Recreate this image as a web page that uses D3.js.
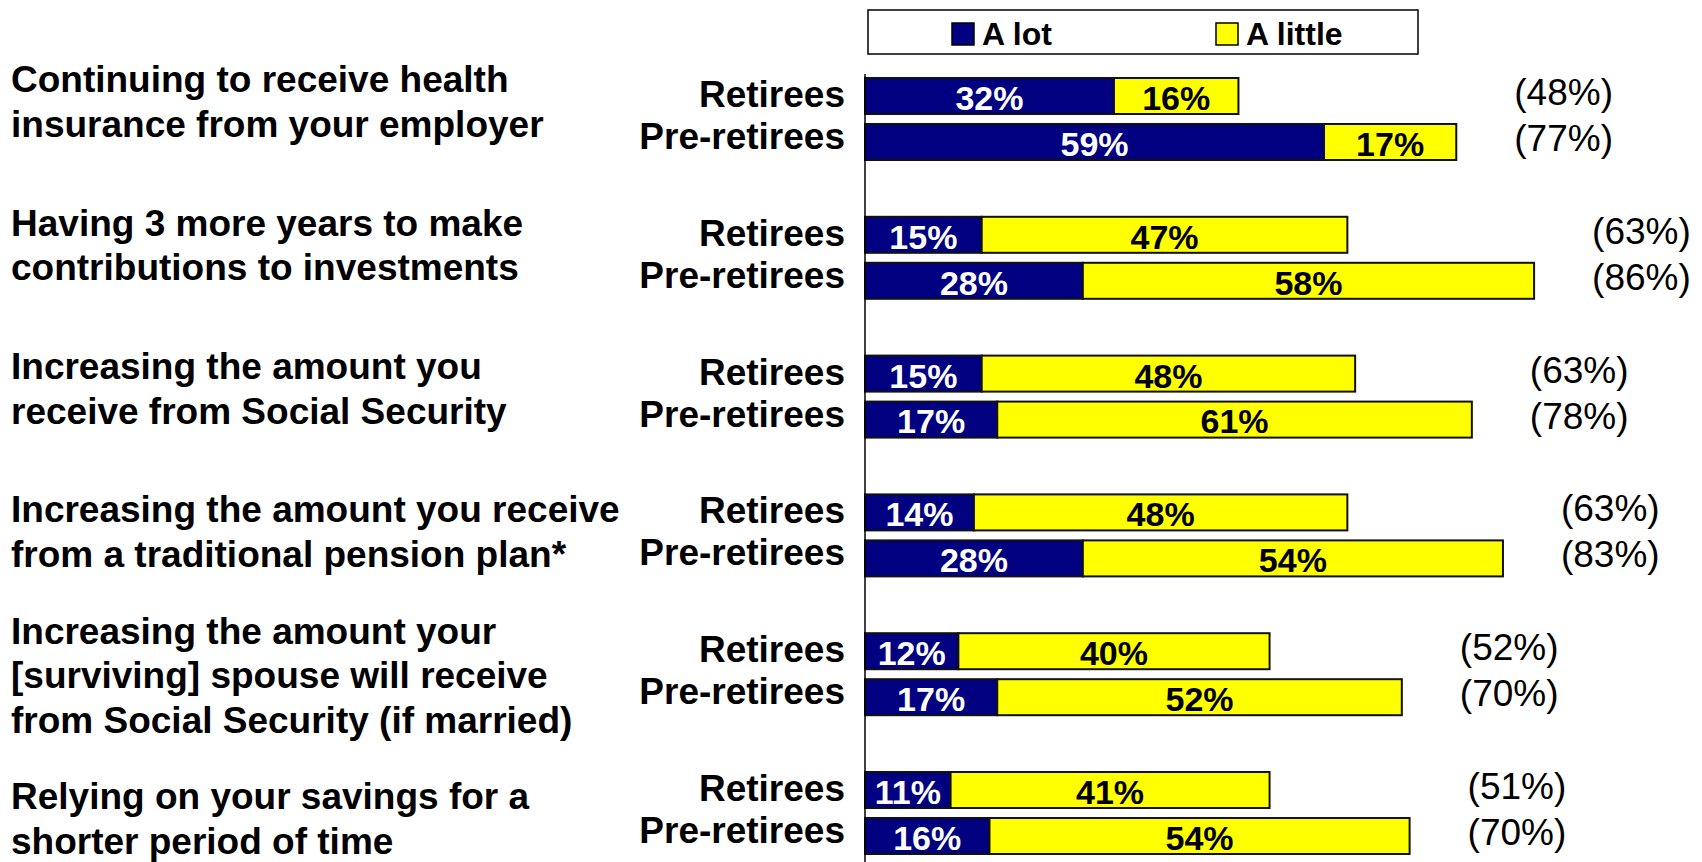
<!DOCTYPE html>
<html>
<head>
<meta charset="utf-8">
<script src="https://d3js.org/d3.v7.min.js"></script>
<style>
  html, body { margin: 0; padding: 0; background: #fff; }
  svg text { font-family: "Liberation Sans", Arial, sans-serif; }
</style>
</head>
<body>
<div id="chart"></div>
<script>
// chart data
var categories = [
  ["Continuing to receive health", "insurance from your employer"],
  ["Having 3 more years to make", "contributions to investments"],
  ["Increasing the amount you", "receive from Social Security"],
  ["Increasing the amount you receive", "from a traditional pension plan*"],
  ["Increasing the amount your", "[surviving] spouse will receive", "from Social Security (if married)"],
  ["Relying on your savings for a", "shorter period of time"]
];
var groups = ["Retirees", "Pre-retirees"];
var aLotRetirees = [32, 15, 15, 14, 12, 11];
var aLittleRetirees = [16, 47, 48, 48, 40, 41];
var aLotPre = [59, 28, 17, 28, 17, 16];
var aLittlePre = [17, 58, 61, 54, 52, 54];
var totalRetirees = ["(48%)", "(63%)", "(63%)", "(63%)", "(52%)", "(51%)"];
var totalPre = ["(77%)", "(86%)", "(78%)", "(83%)", "(70%)", "(70%)"];
var seriesNames = ["A lot", "A little"];
var seriesColors = ["#000080", "#ffff00"];

var width = 1702, height = 862;

var svg = d3.select('#chart').append('svg')
  .attr('width', width)
  .attr('height', height);

var x = d3.scaleLinear().domain([0, 100]).range([865, 1643]);
var y = d3.scaleBand().domain(d3.range(categories.length)).range([78, 78 + 6 * 138.8]);
var yInner = d3.scaleBand().domain(groups).range([0, 82]).paddingInner(0.217);
// the text blocks on the left sit on a slightly wider spacing than the bars
var yLab = d3.scalePoint().domain(d3.range(categories.length)).range([101.5, 818.5]);

// flatten into one row per bar
var rows = [];
categories.forEach(function (c, i) {
  rows.push({ cat: i, group: "Retirees", lot: aLotRetirees[i], little: aLittleRetirees[i], total: totalRetirees[i] });
  rows.push({ cat: i, group: "Pre-retirees", lot: aLotPre[i], little: aLittlePre[i], total: totalPre[i] });
});
function rowY(d) { return y(d.cat) + yInner(d.group); }
function rowMid(d) { return rowY(d) + yInner.bandwidth() / 2; }

// bars
var bar = svg.selectAll('g.bar').data(rows).enter().append('g').attr('class', 'bar');
bar.append('rect')
  .attr('x', x(0))
  .attr('y', rowY)
  .attr('width', function (d) { return x(d.lot) - x(0); })
  .attr('height', yInner.bandwidth())
  .attr('fill', seriesColors[0])
  .attr('stroke', '#111').attr('stroke-width', 2);
bar.append('rect')
  .attr('x', function (d) { return x(d.lot); })
  .attr('y', rowY)
  .attr('width', function (d) { return x(d.lot + d.little) - x(d.lot); })
  .attr('height', yInner.bandwidth())
  .attr('fill', seriesColors[1])
  .attr('stroke', '#111').attr('stroke-width', 2);

// values inside the bars
bar.append('text')
  .attr('x', function (d) { return (x(0) + x(d.lot)) / 2; })
  .attr('y', function (d) { return rowMid(d) + 2; })
  .attr('dy', '0.35em')
  .attr('text-anchor', 'middle')
  .attr('fill', '#fff')
  .style('font-size', '34px').style('font-weight', 'bold')
  .text(function (d) { return d.lot + '%'; });
bar.append('text')
  .attr('x', function (d) { return (x(d.lot) + x(d.lot + d.little)) / 2; })
  .attr('y', function (d) { return rowMid(d) + 2; })
  .attr('dy', '0.35em')
  .attr('text-anchor', 'middle')
  .attr('fill', '#000')
  .style('font-size', '34px').style('font-weight', 'bold')
  .text(function (d) { return d.little + '%'; });

// group names
bar.append('text')
  .attr('x', 845)
  .attr('y', function (d) { return rowMid(d) + (d.group === "Retirees" ? -2 : -6); })
  .attr('dy', '0.35em')
  .attr('text-anchor', 'end')
  .style('font-size', '37px').style('font-weight', 'bold')
  .text(function (d) { return d.group; });

// totals in brackets, placed from the pre-retiree bar end
bar.append('text')
  .attr('x', function (d) {
    var i = d.cat;
    return x(aLotPre[i] + aLittlePre[i]) + 58;
  })
  .attr('y', function (d) { return rowMid(d) - 4; })
  .attr('dy', '0.35em')
  .style('font-size', '37px')
  .text(function (d) { return d.total; });

// category labels on the left
var lab = svg.selectAll('text.cat').data(categories).enter().append('text')
  .attr('class', 'cat')
  .style('font-size', '37px').style('font-weight', 'bold');
lab.each(function (lines, i) {
  var cy = yLab(i) - (lines.length - 1) * 44.5 / 2;
  d3.select(this).selectAll('tspan').data(lines).enter().append('tspan')
    .attr('x', 11)
    .attr('y', function (l, j) { return cy + j * 44.5; })
    .attr('dy', '0.35em')
    .text(function (l) { return l; });
});

// axis line
svg.append('line')
  .attr('x1', x(0)).attr('x2', x(0))
  .attr('y1', 74).attr('y2', height)
  .attr('stroke', '#000').attr('stroke-width', 1.5);

// legend
var legend = svg.append('g');
legend.append('rect')
  .attr('x', 868).attr('y', 10).attr('width', 550).attr('height', 44)
  .attr('fill', '#fff').attr('stroke', '#000').attr('stroke-width', 1.5);
var legendX = [952, 1216];
seriesNames.forEach(function (s, i) {
  legend.append('rect')
    .attr('x', legendX[i]).attr('y', 23).attr('width', 22).attr('height', 22)
    .attr('fill', seriesColors[i]).attr('stroke', '#000').attr('stroke-width', 1.5);
  legend.append('text')
    .attr('x', legendX[i] + 30).attr('y', 34)
    .attr('dy', '0.35em')
    .style('font-size', '32px').style('font-weight', 'bold')
    .text(s);
});
</script>
</body>
</html>
